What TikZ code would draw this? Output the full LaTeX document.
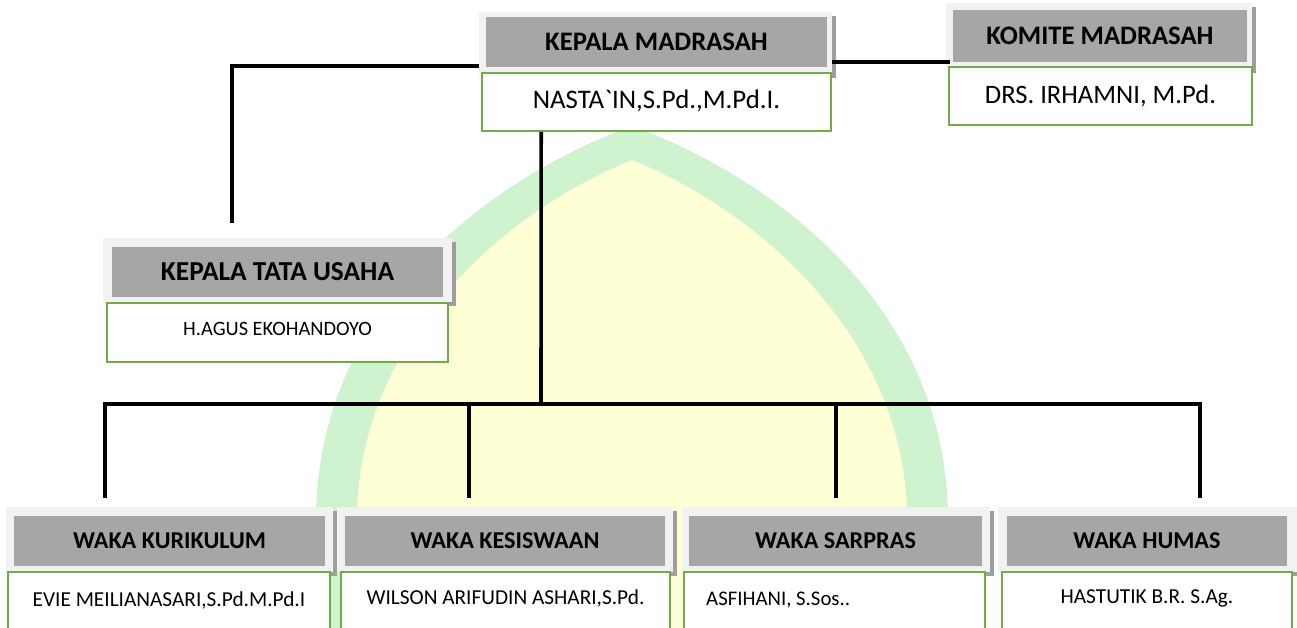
\documentclass[tikz,border=0pt]{standalone}
\usepackage{fontspec}
\newfontfamily\carl{Carlito}[BoldFont={Carlito Bold}]
\usetikzlibrary{shadows,calc}
\definecolor{hdr}{HTML}{A6A6A6}
\definecolor{frm}{HTML}{F2F2F2}
\definecolor{grn}{HTML}{70AD47}
\definecolor{wmg}{HTML}{CEF3CE}
\definecolor{wmy}{HTML}{FFFFD6}
\tikzset{
  frame/.style={fill=frm, draw=none, inner sep=0pt,
    drop shadow={shadow xshift=4pt, shadow yshift=-4pt, fill=black!38, opacity=1}},
  header/.style={fill=hdr, draw=none, inner sep=0pt, font=\carl\bfseries\fontsize{#1}{#1}\selectfont},
  header/.default=26.7,
  namebox/.style={draw=grn, line width=1.6pt, fill=white, inner sep=0pt},
  nametext/.style={inner sep=0pt, font=\carl\fontsize{#1}{#1}\selectfont},
  nametext/.default=21.3,
  conn/.style={draw=black, line width=3.6pt, line join=miter}
}
\begin{document}
\begin{tikzpicture}[x=1pt,y=-1pt]
\useasboundingbox (0,0) rectangle (1297,627);
\clip (0,0) rectangle (1297,627);
\fill[white] (0,0) rectangle (1297,627);
% watermark
\fill[wmg] (316,660) -- (316,520) .. controls (316,320) and (472,185) .. (632,126)
  .. controls (792,185) and (948,320) .. (948,520) -- (948,660) -- cycle;
\fill[wmy] (357,660) -- (357,520) .. controls (357,345) and (497,215) .. (632,160)
  .. controls (767,215) and (907,345) .. (907,520) -- (907,660) -- cycle;

% KEPALA MADRASAH
\node[frame, minimum width=353pt, minimum height=62pt] (kmF) at (655.5,43) {};
\node[header, minimum width=341pt, minimum height=50pt] (kmH) at (656.5,42) {KEPALA MADRASAH};
\node[namebox, minimum width=349pt, minimum height=58pt] (kmN) at (656.5,102) {};
\node[nametext=26.8] (kmT) at (656.5,101) {NASTA`IN,S.Pd.,M.Pd.I.};

% KOMITE MADRASAH
\node[frame, minimum width=306pt, minimum height=66pt] (komF) at (1099,36) {};
\node[header, minimum width=294pt, minimum height=52pt] (komH) at (1100,36) {KOMITE MADRASAH};
\node[namebox, minimum width=303pt, minimum height=58pt] (komN) at (1100.5,96) {};
\node[nametext=26.6] (komT) at (1100.5,96) {DRS. IRHAMNI, M.Pd.};

% KEPALA TATA USAHA
\node[frame, minimum width=349pt, minimum height=64pt] (ktuF) at (277.5,270) {};
\node[header=27.4, minimum width=331pt, minimum height=50pt] (ktuH) at (277.5,272) {KEPALA TATA USAHA};
\node[namebox, minimum width=341pt, minimum height=59pt] (ktuN) at (277.5,332.5) {};
\node[nametext=20.4] (ktuT) at (277.5,329) {H.AGUS EKOHANDOYO};

% bottom row
\node[frame, minimum width=327pt, minimum height=65pt] (wkF) at (169.5,539.5) {};
\node[header=24.2, minimum width=311pt, minimum height=50pt] (wkH) at (169.5,541) {WAKA KURIKULUM};
\node[namebox, minimum width=322pt, minimum height=78pt] (wkN) at (169,611) {};
\node[nametext] (wkT) at (169,600) {EVIE MEILIANASARI,S.Pd.M.Pd.I};

\node[frame, minimum width=336pt, minimum height=65pt] (wksF) at (505,539.5) {};
\node[header=24.2, minimum width=320pt, minimum height=50pt] (wksH) at (505,541) {WAKA KESISWAAN};
\node[namebox, minimum width=329pt, minimum height=78pt] (wksN) at (505.5,611) {};
\node[nametext] (wksT) at (505.5,598) {WILSON ARIFUDIN ASHARI,S.Pd.};

\node[frame, minimum width=308pt, minimum height=65pt] (wsF) at (836,539.5) {};
\node[header=24.2, minimum width=293pt, minimum height=50pt] (wsH) at (835.5,541) {WAKA SARPRAS};
\node[namebox, minimum width=301pt, minimum height=78pt] (wsN) at (834.5,611) {};
\node[nametext=20.8, anchor=west] (wsT) at (706,600) {ASFIHANI, S.Sos..};

\node[frame, minimum width=299pt, minimum height=65pt] (whF) at (1147.5,539.5) {};
\node[header=24.2, minimum width=280pt, minimum height=50pt] (whH) at (1147,541) {WAKA HUMAS};
\node[namebox, minimum width=290pt, minimum height=78pt] (whN) at (1147,611) {};
\node[nametext] (whT) at (1147,598) {HASTUTIK B.R. S.Ag.};

% connectors
\coordinate (ktuTop) at (232,223);
\coordinate (komL) at (950,62);
\coordinate (busM) at (541,404);
\coordinate (b1) at (105,404);
\coordinate (b2) at (469,404);
\coordinate (b3) at (836,404);
\coordinate (b4) at (1200,404);
\coordinate (t1) at (105,498);
\coordinate (t2) at (469,498);
\coordinate (t3) at (836,498);
\coordinate (t4) at (1200,498);

\draw[conn] ($(kmF.south west)+(0,-8)$) -| (ktuTop);
\draw[conn] ($(kmF.east)+(0,19)$) -- (komL);
\draw[conn] ($(kmN.south west)+(60,0)$) -- (busM);
\draw[conn] (t1) -- (b1) -- (b4) -- (t4);
\draw[conn] (b2) -- (t2);
\draw[conn] (b3) -- (t3);
\end{tikzpicture}
\end{document}
